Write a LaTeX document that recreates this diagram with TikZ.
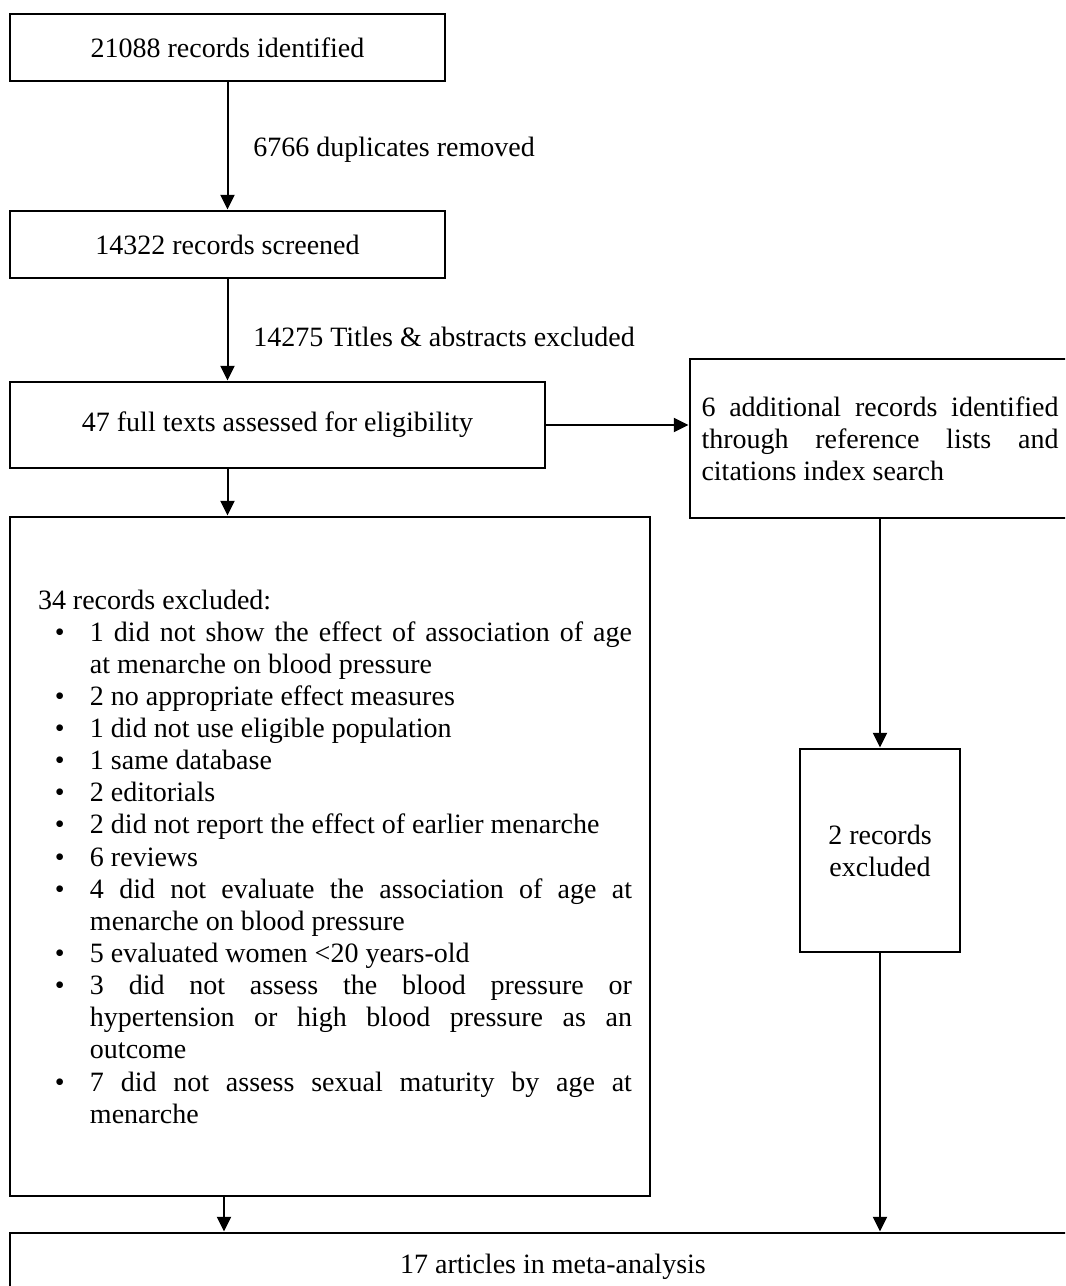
\documentclass[tikz,border=0pt]{standalone}
\usepackage{fontspec}
\setmainfont{Liberation Serif}
\usetikzlibrary{arrows.meta,calc}
\newdimen\px \px=0.75pt
\newenvironment{exlist}{\begin{list}{\textbullet}{\setlength\leftmargin{62\px}\setlength\labelwidth{62\px}\setlength\labelsep{0pt}\setlength\itemsep{0pt}\setlength\topsep{0pt}\setlength\parsep{0pt}\setlength\partopsep{0pt}\setlength\rightmargin{0pt}\renewcommand\makelabel[1]{\hspace*{27\px}##1\hfill}}}{\end{list}}
\tolerance=10000
\hbadness=10000
\begin{document}
\begin{tikzpicture}[x=0.75pt,y=-0.75pt,
  txt/.style={font=\fontsize{21}{24.1}\selectfont},
  box/.style={draw,line width=2.2pt,inner sep=0pt,txt},
  lbl/.style={inner sep=0pt,txt},
  conn/.style={line width=1.5pt,-{Triangle[length=11pt,width=10.5pt]}}]
\useasboundingbox (0,0) rectangle (1065,1286);
\begin{scope}
\clip (0,0) rectangle (1065,1286);
\node[box,minimum width=435\px,minimum height=67\px] (b1) at (227.5,47.5) {21088 records identified};
\node[box,minimum width=435\px,minimum height=67\px] (b2) at (227.5,244.5) {14322 records screened};
\node[box,minimum width=535\px,minimum height=86\px] (b3) at (277.5,425) {47 full texts assessed for eligibility};
\node[box,minimum width=380\px,minimum height=159\px] (b5) at (880,438.5) {\begin{minipage}{357\px}6 additional records identified\linebreak through reference lists and\linebreak citations index search\end{minipage}};
\node[box,minimum width=640\px,minimum height=679\px] (b4) at (330,856.5) {\begin{minipage}{604\px}\hspace*{10\px}34 records excluded:
\begin{exlist}
\item 1 did not show the effect of association of age\linebreak at menarche on blood pressure
\item 2 no appropriate effect measures
\item 1 did not use eligible population
\item 1 same database
\item 2 editorials
\item 2 did not report the effect of earlier menarche
\item 6 reviews
\item 4 did not evaluate the association of age at\linebreak menarche on blood pressure
\item 5 evaluated women <20 years-old
\item 3 did not assess the blood pressure or\linebreak hypertension or high blood pressure as an\linebreak outcome
\item 7 did not assess sexual maturity by age at\linebreak menarche
\end{exlist}\end{minipage}};
\node[box,minimum width=160\px,minimum height=203\px,align=center] (b6) at (880,850.5) {2 records\\excluded};
\node[box,minimum width=1086\px,minimum height=67\px] (b7) at (553,1266.5) {17 articles in meta-analysis};
\node[lbl,anchor=west] (l1) at (253,150) {6766 duplicates removed};
\node[lbl,anchor=west] (l2) at (253,337) {14275 Titles \& abstracts excluded};
\draw[conn] (b1.south) -- (b2.north);
\draw[conn] (b2.south) -- (b2.south |- b3.north);
\draw[conn] (b3.south -| b1.south) -- (b4.north -| b1.south);
\draw[conn] (b3.east) -- (b3.east -| b5.west);
\draw[conn] (b5.south) -- (b5.south |- b6.north);
\draw[conn] (b4.south -| 224,0) -- (b7.north -| 224,0);
\draw[conn] (b6.south) -- (b6.south |- b7.north);
\end{scope}
\end{tikzpicture}
\end{document}
